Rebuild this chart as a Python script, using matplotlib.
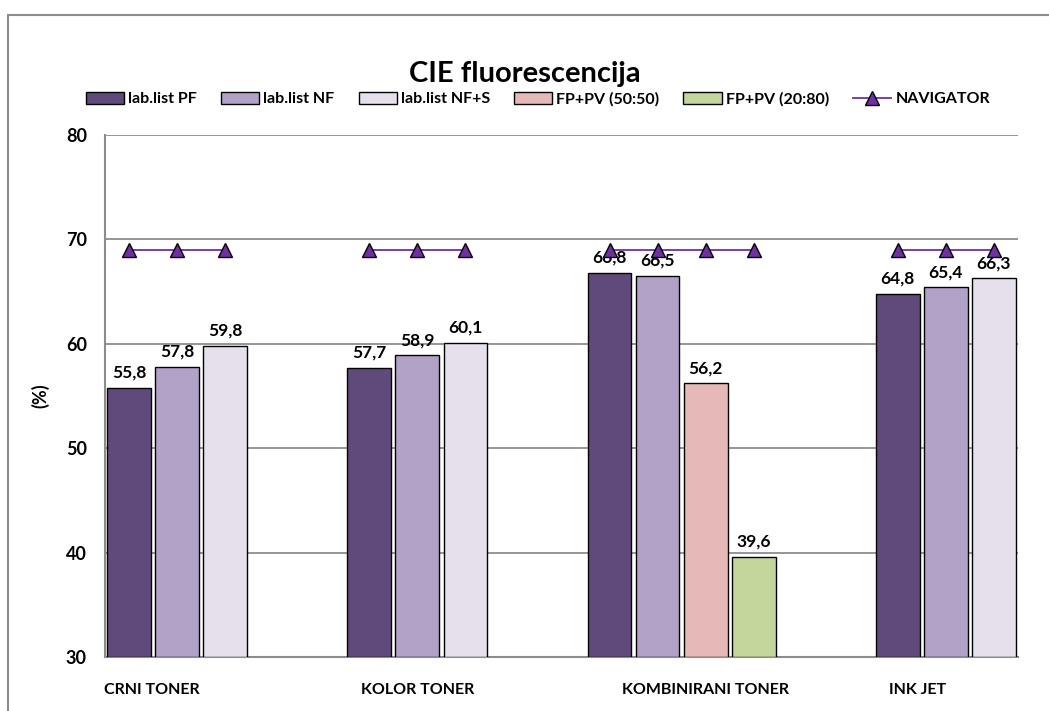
import numpy as np
import matplotlib
matplotlib.use("Agg")
import matplotlib.pyplot as plt
from matplotlib.lines import Line2D
from matplotlib.patches import Patch, Rectangle

plt.rcParams['font.family'] = ['Lato', 'DejaVu Sans']
plt.rcParams['font.weight'] = 'bold'

# Podaci
groups = ['CRNI TONER', 'KOLOR TONER', 'KOMBINIRANI TONER', 'INK JET']
series = ['lab.list PF', 'lab.list NF', 'lab.list NF+S', 'FP+PV (50:50)', 'FP+PV (20:80)']
pf = [55.8, 57.7, 66.8, 64.8]
nf = [57.8, 58.9, 66.5, 65.4]
nfs = [59.8, 60.1, np.nan, 66.3]
fp_50_50 = [np.nan, np.nan, 56.2, np.nan]
fp_20_80 = [np.nan, np.nan, 39.6, np.nan]
navigator = [69, 69, 69, 69]

colors = ['#604A7B', '#B3A2C7', '#E6E0EC', '#E6B9B8', '#C3D69B']
nav_color = '#7030A0'
grid_color = '#8C8C8C'

all_series = [pf, nf, nfs, fp_50_50, fp_20_80]

fig = plt.figure(figsize=(10.49, 7.11), dpi=100)
ax = fig.add_axes([105 / 1049, 1 - 657 / 711, 913 / 1049, 522 / 711])

# raspored: svaki stupac ima svoje mjesto, razmak od 2 mjesta između grupa
slot = 0
nav_x, nav_y = [], []
for g in range(len(groups)):
    for s, vals in enumerate(all_series):
        v = vals[g]
        if np.isnan(v):
            continue
        ax.bar(slot, v - 30, bottom=30, width=0.91, color=colors[s],
               edgecolor='black', linewidth=1.0, zorder=3)
        ax.annotate(f"{v:.1f}".replace('.', ','), (slot, v), xytext=(0, 5),
                    textcoords='offset points', ha='center', va='bottom',
                    fontsize=12.5, fontweight='bold', zorder=4)
        nav_x.append(slot)
        nav_y.append(navigator[g])
        slot += 1
    nav_x.append(np.nan)
    nav_y.append(np.nan)
    slot += 2

ax.plot(nav_x, nav_y, color=nav_color, linewidth=1.3, marker='^',
        markersize=9.5, markerfacecolor=nav_color, markeredgecolor='black',
        markeredgewidth=1.0, zorder=5)

ax.set_xlim(-0.5, slot - 2 - 0.5)
ax.set_ylim(30, 80)
ax.set_yticks([30, 40, 50, 60, 70, 80])
ax.yaxis.grid(True, color=grid_color, linewidth=1.3, zorder=0)
ax.set_axisbelow(True)
ax.tick_params(axis='y', length=0, pad=13, labelsize=13)
ax.tick_params(axis='x', length=0, pad=19, labelsize=11.5)

# pozicije natpisa kategorija (kao u Excelu)
ax.set_xticks([0.48, 6.0, 12.0, 16.4])
ax.set_xticklabels(groups, fontweight='bold')
for lab in ax.get_yticklabels():
    lab.set_fontweight('bold')

for side in ['top', 'right']:
    ax.spines[side].set_visible(False)
for side in ['left', 'bottom']:
    ax.spines[side].set_color(grid_color)
    ax.spines[side].set_linewidth(1.5)

ax.set_ylabel('(%)', fontsize=13, fontweight='bold')
ax.yaxis.set_label_coords(-56 / 913, 0.5)

fig.text(525 / 1049, 1 - 74 / 711, 'CIE fluorescencija', ha='center', va='center',
         fontsize=21, fontweight='bold')

handles = [Patch(facecolor=c, edgecolor='black', linewidth=1.0) for c in colors]
handles.append(Line2D([], [], color=nav_color, linewidth=1.3, marker='^', markersize=9.5,
                      markerfacecolor=nav_color, markeredgecolor='black'))
fig.legend(handles, series + ['NAVIGATOR'], loc='center', ncol=6,
           bbox_to_anchor=(538 / 1049, 1 - 99 / 711), frameon=False,
           prop={'size': 11.5, 'weight': 'bold'}, handlelength=2.4, handleheight=0.75,
           handletextpad=0.25, columnspacing=1.5)

# okvir grafikona
fig.patches.append(Rectangle((8 / 1049, -0.1), 1.2, 1.1 - 15 / 711, transform=fig.transFigure,
                             fill=False, edgecolor='#8C8C8C', linewidth=1.5))

fig.savefig('out.png', dpi=100)
